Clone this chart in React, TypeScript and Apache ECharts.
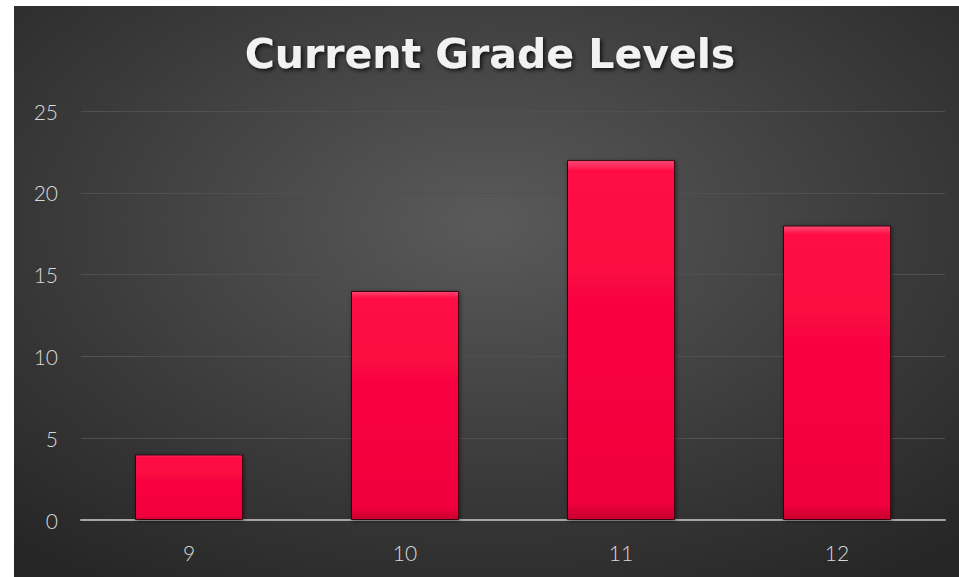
import React, { useEffect, useRef } from "react";
import * as echarts from "echarts";

const categories = ["9", "10", "11", "12"];
const values = [4, 14, 22, 18];
const yTicks = [0, 5, 10, 15, 20, 25];
const titleText = "Current Grade Levels";

export default function App() {
  const ref = useRef<HTMLDivElement>(null);
  useEffect(() => {
    const chart = echarts.init(ref.current!, null, { renderer: "svg" });
    chart.setOption({
      animation: false,
      backgroundColor: "#ffffff",
      graphic: [
        {
          type: "rect",
          z: -10,
          silent: true,
          shape: { x: 14, y: 6, width: 945, height: 571 },
          style: {
            fill: new echarts.graphic.RadialGradient(0.5, 0.38, 0.75, [
              { offset: 0, color: "#5a5a5a" },
              { offset: 0.6, color: "#3a3a3a" },
              { offset: 1, color: "#262626" },
            ]),
          },
        },
        {
          type: "text",
          x: 490,
          y: 54,
          z: 10,
          style: {
            text: titleText,
            textAlign: "center",
            textVerticalAlign: "middle",
            fontFamily: "DejaVu Sans",
            fontWeight: "bold",
            fontSize: 41,
            fill: "#f2f2f2",
            textShadowColor: "rgba(0,0,0,0.75)",
            textShadowBlur: 4,
            textShadowOffsetX: 2,
            textShadowOffsetY: 2,
          },
        },
      ],
      grid: { left: 81, right: 14, top: 111, bottom: 57, containLabel: false },
      xAxis: {
        type: "category",
        data: categories,
        axisLine: { lineStyle: { color: "#a6a6a6", width: 2 } },
        axisTick: { show: false },
        axisLabel: {
          color: "#d9d9d9",
          fontSize: 21,
          fontFamily: "Lato",
          fontWeight: 300,
          margin: 22,
        },
      },
      yAxis: {
        type: "value",
        min: 0,
        max: yTicks[yTicks.length - 1],
        interval: 5,
        axisLine: { show: false },
        axisTick: { show: false },
        splitLine: { lineStyle: { color: "#505050", width: 1 } },
        axisLabel: {
          color: "#d9d9d9",
          fontSize: 21,
          fontFamily: "Lato",
          fontWeight: 300,
          margin: 23,
        },
      },
      series: [
        {
          type: "bar",
          data: values,
          barWidth: "50%",
          itemStyle: {
            color: new echarts.graphic.LinearGradient(0, 0, 0, 1, [
              { offset: 0, color: "#ff4a74" },
              { offset: 0.03, color: "#ff0a45" },
              { offset: 0.95, color: "#f0003c" },
              { offset: 1, color: "#c8002f" },
            ]),
            borderColor: "#3a0610",
            borderWidth: 1,
            shadowColor: "rgba(0,0,0,0.5)",
            shadowBlur: 4,
            shadowOffsetX: 1,
            shadowOffsetY: 1,
          },
        },
      ],
    });
    return () => chart.dispose();
  }, []);
  return (
    <div
      ref={ref}
      style={{ position: "fixed", left: 0, top: 0, width: 959, height: 577 }}
    />
  );
}
